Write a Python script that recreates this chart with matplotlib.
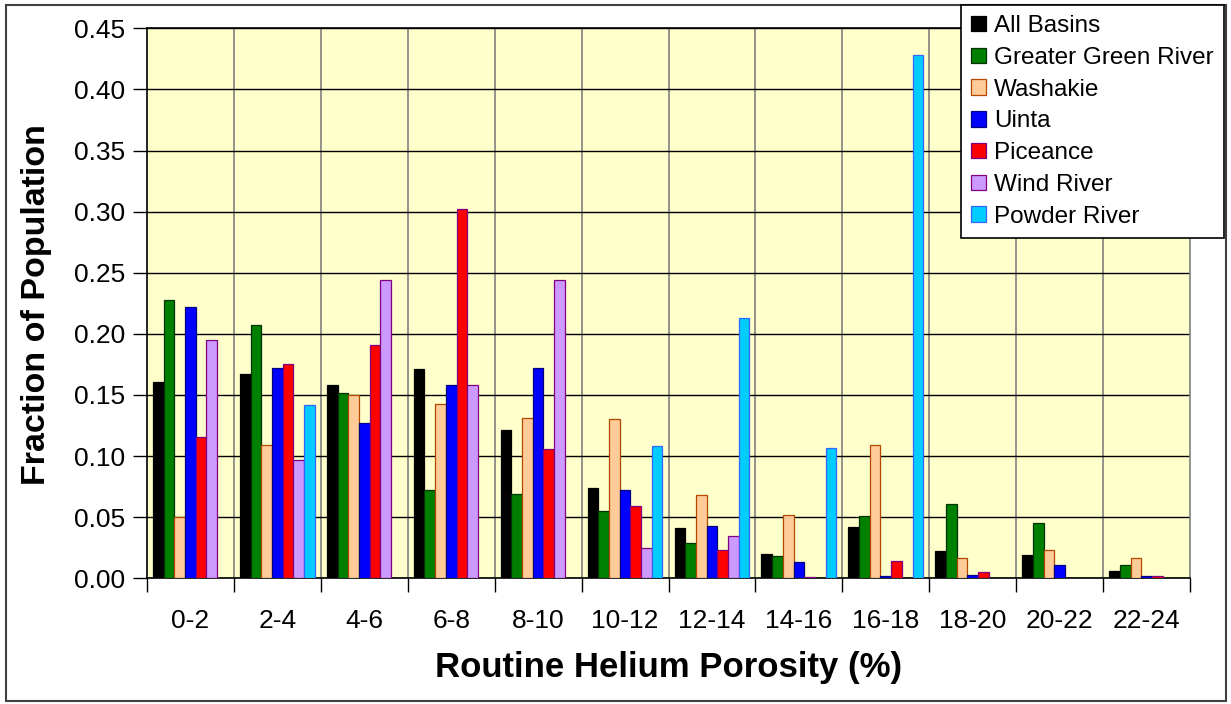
import numpy as np
import matplotlib
matplotlib.use("Agg")
import matplotlib.pyplot as plt
from matplotlib.patches import Rectangle, Patch

plt.rcParams['font.family'] = ['Liberation Sans', 'DejaVu Sans']

categories = ['0-2', '2-4', '4-6', '6-8', '8-10', '10-12',
              '12-14', '14-16', '16-18', '18-20', '20-22', '22-24']

all_basins = [0.161, 0.167, 0.158, 0.171, 0.121, 0.074, 0.041, 0.020, 0.042, 0.022, 0.019, 0.006]
greater_green_river = [0.228, 0.207, 0.152, 0.072, 0.069, 0.055, 0.029, 0.018, 0.051, 0.061, 0.045, 0.011]
washakie = [0.050, 0.109, 0.150, 0.143, 0.131, 0.130, 0.068, 0.052, 0.109, 0.017, 0.023, 0.017]
uinta = [0.222, 0.172, 0.127, 0.158, 0.172, 0.072, 0.043, 0.013, 0.002, 0.003, 0.011, 0.002]
piceance = [0.116, 0.175, 0.191, 0.302, 0.106, 0.059, 0.023, 0.001, 0.014, 0.005, 0.000, 0.002]
wind_river = [0.195, 0.097, 0.244, 0.158, 0.244, 0.025, 0.035, 0.000, 0.000, 0.000, 0.000, 0.000]
powder_river = [0.000, 0.142, 0.000, 0.000, 0.000, 0.108, 0.213, 0.107, 0.428, 0.000, 0.000, 0.000]

series = [
    ("All Basins", all_basins, "#000000", "#000000"),
    ("Greater Green River", greater_green_river, "#008000", "#003300"),
    ("Washakie", washakie, "#FFCC99", "#B34700"),
    ("Uinta", uinta, "#0000FF", "#000080"),
    ("Piceance", piceance, "#FF0000", "#800080"),
    ("Wind River", wind_river, "#CC99FF", "#800080"),
    ("Powder River", powder_river, "#00CCFF", "#3366FF"),
]

fig = plt.figure(figsize=(12.31, 7.04), dpi=100)
fig.patch.set_facecolor("white")

# outer chart frame
fig.patches.append(Rectangle((6 / 1231, 3 / 704), 1220 / 1231, 696 / 704,
                             transform=fig.transFigure, fill=False,
                             edgecolor="#404040", linewidth=1.5, zorder=0))

ax = fig.add_axes([147 / 1231, 1 - 578.3 / 704, (1190 - 147) / 1231, (578.3 - 28.3) / 704])
ax.set_facecolor("#FFFFCC")

n = len(categories)
x = np.arange(n)
w = 0.123
handles = []
for j, (name, vals, fc, ec) in enumerate(series):
    bars = ax.bar(x + 0.5 + (j - 3) * w, vals, width=w, color=fc,
                  edgecolor=ec, linewidth=0.9, zorder=3)
    # empty classes get no outline at the baseline
    for b, v in zip(bars, vals):
        if v == 0:
            b.set_visible(False)
    handles.append(Patch(facecolor=fc, edgecolor=ec, linewidth=0.9, label=name))

ax.set_xlim(0, n)
ax.set_ylim(0, 0.45)
yt = np.arange(0, 0.451, 0.05)
ax.set_yticks(yt)
ax.set_yticklabels([f"{v:.2f}" for v in yt], fontsize=19)

ax.set_xticks(np.arange(n + 1))
ax.set_xticklabels([])
ax.set_xticks(x + 0.5, minor=True)
ax.set_xticklabels(categories, minor=True, fontsize=19)
ax.tick_params(axis='x', which='minor', length=0, pad=22)
ax.tick_params(axis='x', which='major', length=10, width=1, color="#000000")
ax.tick_params(axis='y', length=10, width=1, pad=6)

ax.grid(axis='y', color="#000000", linewidth=1, zorder=1)
for xv in range(1, n):
    ax.axvline(xv, color="#808080", linewidth=1.2, zorder=1)

for side in ["left", "bottom", "top"]:
    ax.spines[side].set_color("#000000")
    ax.spines[side].set_linewidth(1.2)
ax.spines["right"].set_color("#808080")
ax.spines["right"].set_linewidth(1.2)

fig.text(37 / 1231, 1 - 305 / 704, "Fraction of Population", rotation=90,
         fontsize=24.5, fontweight="bold", ha="center", va="center")
fig.text(669 / 1231, 1 - 668 / 704, "Routine Helium Porosity (%)",
         fontsize=25, fontweight="bold", ha="center", va="center")

leg = fig.legend(handles=handles, loc="upper right",
                 bbox_to_anchor=(1224 / 1231, 1 - 5 / 704), bbox_transform=fig.transFigure,
                 fontsize=17.5, frameon=True, fancybox=False, shadow=False,
                 borderaxespad=0, borderpad=0.42, handlelength=0.6, handleheight=0.6,
                 handletextpad=0.35, labelspacing=0.4)
frame = leg.get_frame()
frame.set_edgecolor("#000000")
frame.set_linewidth(1.2)
frame.set_facecolor("white")
frame.set_alpha(1)
leg.set_zorder(10)

fig.savefig("out.png", dpi=100)
